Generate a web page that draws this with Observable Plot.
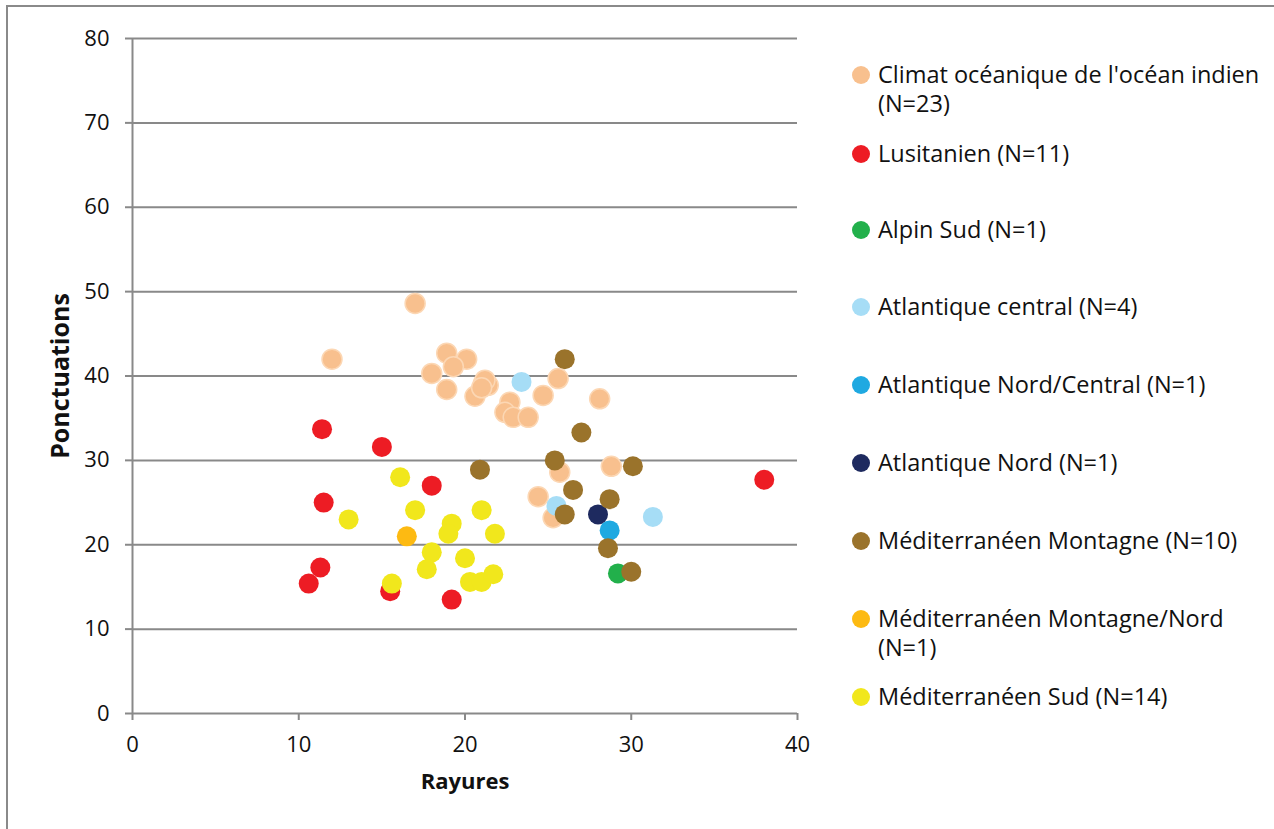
<!DOCTYPE html>
<html>
<head>
<meta charset="utf-8">
<script src="https://cdn.jsdelivr.net/npm/d3@7"></script>
<script src="https://cdn.jsdelivr.net/npm/@observablehq/plot@0.6"></script>
<style>
  html, body { margin: 0; padding: 0; background: #fff; overflow: hidden; }
  #wrap { position: relative; width: 1274px; height: 829px; }
  #frame { position: absolute; left: 6px; top: 5px; width: 1300px; height: 900px; border: 2px solid #8a8a8a; box-sizing: border-box; pointer-events: none; }
  #chart { position: absolute; left: 0; top: 0; }
  #legend { position: absolute; left: 0; top: 0; font-family: "Open Sans", sans-serif; font-size: 23.5px; color: #111; }
  .item { position: absolute; left: 852px; width: 420px; display: flex; align-items: flex-start; }
  .sw { width: 18px; height: 18px; border-radius: 50%; margin-top: 5.5px; margin-right: 8px; flex: none; }
  .lab { width: 392px; line-height: 29px; }
</style>
</head>
<body>
<div id="wrap">
  <div id="chart"></div>
  <div id="legend"></div>
  <div id="frame"></div>
</div>
<script>
// ---- Data ----
const seriesNames = [
  "Climat océanique de l'océan indien (N=23)",
  "Lusitanien (N=11)",
  "Alpin Sud (N=1)",
  "Atlantique central (N=4)",
  "Atlantique Nord/Central (N=1)",
  "Atlantique Nord (N=1)",
  "Méditerranéen Montagne (N=10)",
  "Méditerranéen Montagne/Nord (N=1)",
  "Méditerranéen Sud (N=14)"
];
const seriesColors = ["#f8c08e", "#ed1c24", "#22b04b", "#a6ddf6", "#1fa9e1", "#1e2a5f", "#9a732b", "#fdba12", "#f1e71c"];

const oceanX = [17.0, 12.0, 18.9, 20.1, 19.3, 18.0, 18.9, 20.6, 21.1, 21.4, 21.2, 21.0, 22.7, 22.4, 22.9, 23.8, 24.7, 25.6, 28.1, 28.8, 25.7, 24.4, 25.3];
const oceanY = [48.6, 42.0, 42.7, 42.0, 41.1, 40.3, 38.4, 37.6, 39.1, 38.9, 39.5, 38.6, 36.9, 35.7, 35.1, 35.1, 37.7, 39.7, 37.3, 29.3, 28.6, 25.7, 23.2];
const lusitX = [11.4, 15.0, 18.0, 11.5, 11.3, 10.6, 15.5, 19.2, 38.0];
const lusitY = [33.7, 31.6, 27.0, 25.0, 17.3, 15.4, 14.5, 13.5, 27.7];
const alpinSudX = [29.2];
const alpinSudY = [16.6];
const atlCentralX = [23.4, 25.5, 31.3];
const atlCentralY = [39.3, 24.6, 23.3];
const atlNordCentralX = [28.7];
const atlNordCentralY = [21.7];
const atlNordX = [28.0];
const atlNordY = [23.6];
const medMontX = [26.0, 27.0, 25.4, 30.1, 20.9, 26.5, 28.7, 26.0, 28.6, 30.0];
const medMontY = [42.0, 33.3, 30.0, 29.3, 28.9, 26.5, 25.4, 23.6, 19.6, 16.8];
const medMontNordX = [16.5];
const medMontNordY = [21.0];
const medSudX = [16.1, 17.0, 13.0, 21.0, 19.2, 19.0, 21.8, 18.0, 17.7, 20.0, 15.6, 20.3, 21.0, 21.7];
const medSudY = [28.0, 24.1, 23.0, 24.1, 22.5, 21.3, 21.3, 19.1, 17.1, 18.4, 15.4, 15.6, 15.6, 16.5];

const xTicks = [0, 10, 20, 30, 40];
const yTicks = [0, 10, 20, 30, 40, 50, 60, 70, 80];
const xTitle = "Rayures";
const yTitle = "Ponctuations";

// ---- Build table ----
const seriesXY = [
  [oceanX, oceanY], [lusitX, lusitY], [alpinSudX, alpinSudY], [atlCentralX, atlCentralY],
  [atlNordCentralX, atlNordCentralY], [atlNordX, atlNordY], [medMontX, medMontY],
  [medMontNordX, medMontNordY], [medSudX, medSudY]
];
const points = [];
seriesXY.forEach(([xs, ys], i) => {
  xs.forEach((x, j) => points.push({ series: seriesNames[i], x, y: ys[j], idx: i }));
});

const grid = "#898989";
const plot = Plot.plot({
  width: 1274,
  height: 829,
  marginLeft: 132,
  marginRight: 477,
  marginTop: 38,
  marginBottom: 116,
  style: { background: "transparent", fontFamily: "'Open Sans', sans-serif" },
  x: { domain: [0, 40], ticks: xTicks },
  y: { domain: [0, 80], ticks: yTicks },
  color: { domain: seriesNames, range: seriesColors },
  marks: [
    Plot.gridY(yTicks.filter(d => d > 0), { stroke: grid, strokeOpacity: 1, strokeWidth: 2 }),
    Plot.ruleX([0], { stroke: grid, strokeWidth: 2 }),
    Plot.ruleY([0], { stroke: grid, strokeWidth: 2 }),
    Plot.axisY(yTicks, { tickSize: 7, tickPadding: 16, stroke: grid, strokeWidth: 2, fontSize: 22, fontFamily: "'Open Sans'", fill: "#111", label: null }),
    Plot.axisX(xTicks, { tickSize: 7, tickPadding: 16, stroke: grid, strokeWidth: 2, fontSize: 22, fontFamily: "'Open Sans'", fill: "#111", label: null }),
    Plot.dot(points, {
      x: "x", y: "y", r: 10, fill: "series",
      stroke: d => d.idx === 0 ? "#fcd7b4" : "none", strokeWidth: 1.5
    }),
    Plot.text([yTitle], { frameAnchor: "left", textAnchor: "middle", dx: -72, rotate: -90, fontWeight: "bold", fontSize: 25, fill: "#111", fontFamily: "'Open Sans'" }),
    Plot.text([xTitle], { frameAnchor: "bottom", dy: 75, fontWeight: "bold", fontSize: 22, fill: "#111", fontFamily: "'Open Sans'" })
  ]
});
document.getElementById("chart").appendChild(plot);

// ---- Legend ----
const legendTops = [60, 139, 215, 292, 370, 448, 526, 604, 682];
const legend = document.getElementById("legend");
seriesNames.forEach((name, i) => {
  const it = document.createElement("div");
  it.className = "item";
  it.style.top = legendTops[i] + "px";
  const sw = document.createElement("div");
  sw.className = "sw";
  sw.style.background = seriesColors[i];
  const lab = document.createElement("div");
  lab.className = "lab";
  lab.textContent = name;
  it.appendChild(sw);
  it.appendChild(lab);
  legend.appendChild(it);
});
</script>
</body>
</html>
